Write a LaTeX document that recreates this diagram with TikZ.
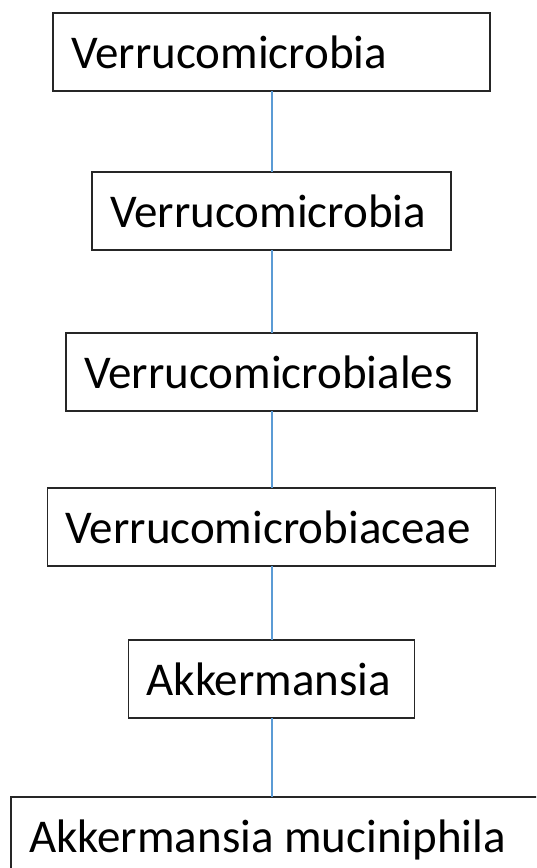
\documentclass[tikz,border=0pt]{standalone}
\usepackage{fontspec}
\setmainfont{Carlito}
\usepackage{xcolor}
\usepackage{tikz}
\usetikzlibrary{positioning}

\definecolor{branchblue}{HTML}{5B9BD5}

\begin{document}
\begin{tikzpicture}[
    taxon/.style={rectangle, draw=black!85, line width=1.4pt, inner xsep=18pt, inner ysep=0pt,
                  outer sep=0pt, minimum height=78pt, text height=33pt, text depth=0pt,
                  align=flush left, font=\fontsize{47}{56}\selectfont},
    branch/.style={draw=branchblue, line width=2pt}]

    % Page
    \useasboundingbox (0,0) rectangle (536pt,-868pt);
    \clip (0,0) rectangle (536pt,-868pt);

    % Phylum
    \node[taxon, text width=401pt, anchor=north] (phylum) at (271.5pt,-13pt) {Verrucomicrobia};

    % Class
    \node[taxon, text width=323pt, below=81pt of phylum] (class) {Verrucomicrobia};

    % Order
    \node[taxon, text width=375pt, below=83pt of class] (order) {Verrucomicrobiales};

    % Family
    \node[taxon, text width=412pt, below=77pt of order] (family) {Verrucomicrobiaceae};

    % Genus
    \node[taxon, text width=250pt, below=74pt of family] (genus) {Akkermansia};

    % Species
    \node[taxon, text width=498pt, below=79pt of genus, xshift=6.5pt] (species) {Akkermansia muciniphila};

    % Branches
    \draw[branch] (phylum.south) -- (class.north);
    \draw[branch] (class.south) -- (order.north);
    \draw[branch] (order.south) -- (family.north);
    \draw[branch] (family.south) -- (genus.north);
    \draw[branch] (genus.south) -- (genus |- species.north);
\end{tikzpicture}
\end{document}
